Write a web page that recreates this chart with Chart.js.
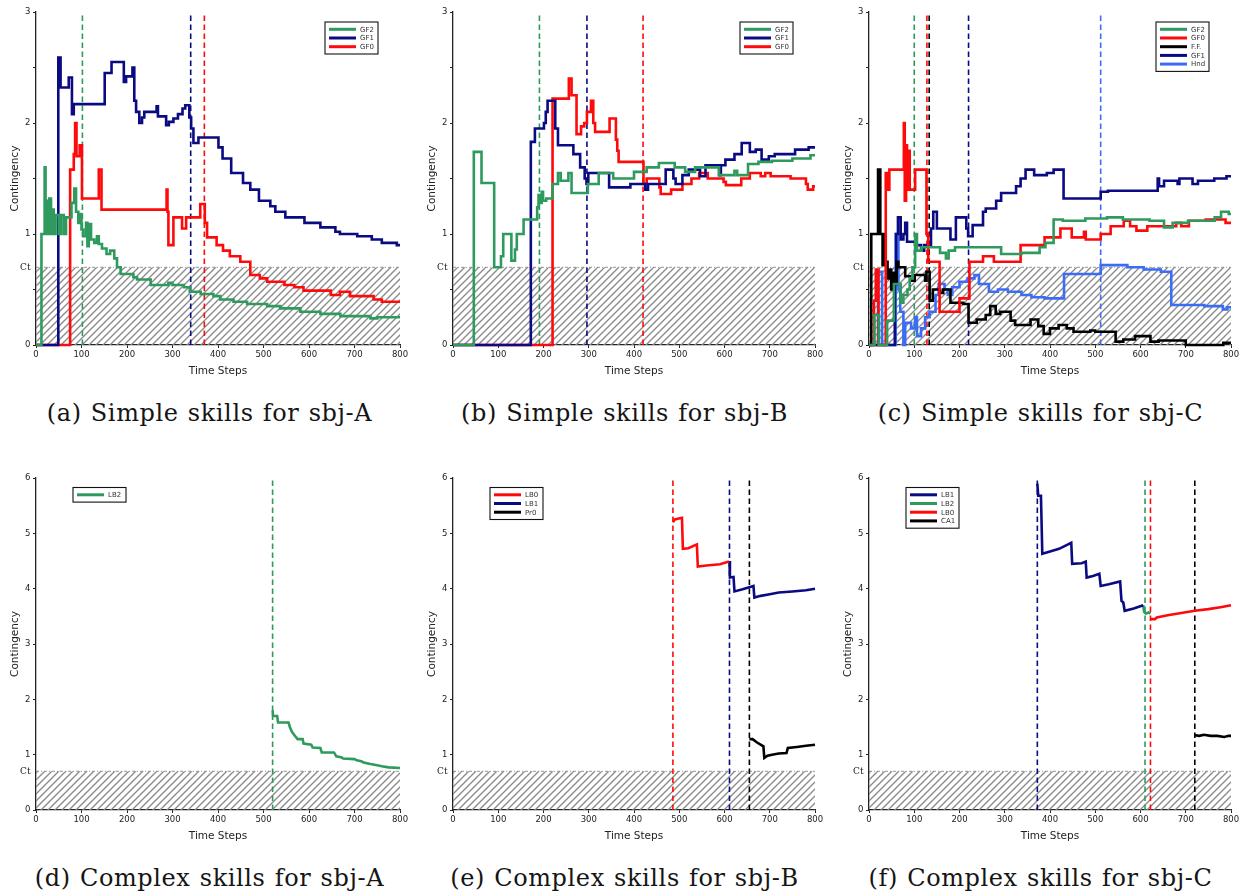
<!DOCTYPE html>
<html>
<head>
<meta charset="utf-8">
<script src="https://cdn.jsdelivr.net/npm/chart.js@4.4.1/dist/chart.umd.min.js"></script>
<style>
html, body { margin: 0; padding: 0; background: #fff; }
body { width: 1246px; height: 896px; position: relative; overflow: hidden; }
canvas { position: absolute; }
.cap {
  position: absolute; width: 415px; text-align: center; white-space: nowrap;
  font-family: 'DejaVu Serif', serif; font-size: 24px; line-height: 30px;
  letter-spacing: 0.6px; word-spacing: 1px; color: #151515;
}
</style>
</head>
<body>
<div class="cap" style="left:2px;top:398px">(a) Simple skills for sbj-A</div>
<div class="cap" style="left:417px;top:398px">(b) Simple skills for sbj-B</div>
<div class="cap" style="left:833px;top:398px">(c) Simple skills for sbj-C</div>
<div class="cap" style="left:2px;top:863px">(d) Complex skills for sbj-A</div>
<div class="cap" style="left:417px;top:863px">(e) Complex skills for sbj-B</div>
<div class="cap" style="left:833px;top:863px">(f) Complex skills for sbj-C</div>
<script>
// --- axis ticks ---
const X_TICKS = [0, 100, 200, 300, 400, 500, 600, 700, 800];
const TOP_Y_TICKS = [0, 0.5, 0.7, 1, 1.5, 2, 2.5, 3];
const BOT_Y_TICKS = [0, 0.7, 1, 2, 3, 4, 5, 6];
const CT = 0.7;

const GREEN = '#2e9a5e', NAVY = '#0a0a82', RED = '#ff0a0a', BLACK = '#000000', LBLUE = '#3b6cf5';

// --- (a) sbj-A simple skills: [time step, contingency], step-wise ---
const A_GF2 = [[0,0],[12,1.0],[19,1.6],[21,1.0],[24,1.3],[26,1.0],[29,1.32],[33,1.0],[36,1.22],[39,1.0],[43,1.17],[50,1.0],[55,1.17],[61,1.0],[66,1.15],[78,1.28],[84,1.41],[88,1.2],[93,1.1],[97,1.18],[100,1.04],[104,0.98],[110,1.1],[113,0.89],[116,1.09],[121,0.95],[128,0.92],[134,0.98],[138,0.91],[145,0.87],[155,0.82],[163,0.85],[172,0.78],[178,0.7],[186,0.64],[214,0.61],[222,0.59],[252,0.54],[291,0.56],[300,0.54],[325,0.52],[338,0.48],[362,0.46],[390,0.44],[405,0.41],[434,0.39],[464,0.37],[508,0.35],[537,0.33],[581,0.3],[625,0.28],[669,0.26],[735,0.24],[750,0.25],[800,0.25]];
const A_GF1 = [[0,0],[49,2.59],[54,2.32],[72,2.41],[79,2.08],[83,2.17],[151,2.45],[166,2.55],[193,2.37],[198,2.42],[212,2.5],[216,2.2],[220,2.1],[227,2.0],[233,2.05],[238,2.1],[265,2.15],[268,2.06],[286,1.98],[292,2.01],[302,2.04],[312,2.08],[322,2.13],[328,2.16],[337,2.05],[341,1.95],[346,1.82],[357,1.87],[401,1.78],[410,1.68],[429,1.55],[455,1.46],[471,1.4],[490,1.3],[515,1.25],[526,1.2],[548,1.15],[590,1.1],[625,1.06],[658,1.02],[668,1.0],[706,0.98],[738,0.95],[760,0.92],[793,0.9],[800,0.9]];
const A_GF0 = [[0,0],[75,1.58],[83,1.72],[86,2.0],[89,1.7],[96,1.8],[101,1.32],[138,1.58],[144,1.22],[287,1.4],[289,1.2],[291,0.9],[302,1.15],[321,1.05],[330,1.15],[361,1.27],[371,1.1],[376,0.97],[397,0.9],[411,0.85],[426,0.8],[449,0.75],[471,0.63],[492,0.6],[508,0.57],[546,0.54],[568,0.52],[588,0.49],[648,0.45],[668,0.48],[690,0.44],[742,0.41],[760,0.39],[800,0.39]];

// --- (b) sbj-B simple skills ---
const B_GF2 = [[0,0],[46,1.74],[63,1.46],[91,0.7],[106,0.8],[111,1.0],[129,0.76],[137,0.86],[141,1.0],[156,1.13],[186,1.24],[189,1.35],[193,1.28],[196,1.38],[199,1.3],[206,1.32],[220,1.45],[232,1.55],[238,1.48],[255,1.55],[262,1.37],[298,1.45],[322,1.55],[354,1.5],[400,1.56],[428,1.6],[455,1.64],[490,1.6],[513,1.56],[535,1.6],[588,1.53],[622,1.57],[628,1.53],[652,1.63],[675,1.65],[705,1.66],[750,1.68],[790,1.71],[800,1.71]];
const B_GF1 = [[0,0],[172,1.83],[181,1.95],[201,2.0],[205,2.1],[209,2.2],[226,1.95],[232,1.8],[266,1.72],[281,1.6],[291,1.5],[295,1.45],[299,1.55],[345,1.42],[392,1.45],[425,1.4],[431,1.45],[470,1.58],[487,1.5],[492,1.45],[507,1.53],[521,1.58],[546,1.52],[558,1.62],[588,1.53],[592,1.62],[602,1.67],[622,1.72],[638,1.82],[656,1.74],[669,1.76],[682,1.67],[698,1.7],[711,1.72],[756,1.76],[786,1.78],[800,1.78]];
const B_GF0 = [[0,0],[220,2.22],[256,2.4],[262,2.25],[273,1.9],[283,1.97],[290,2.0],[296,2.1],[305,2.2],[310,2.0],[314,1.92],[346,2.04],[360,1.85],[363,1.75],[366,1.65],[421,1.45],[428,1.5],[456,1.42],[459,1.36],[482,1.4],[507,1.45],[527,1.5],[544,1.55],[563,1.5],[598,1.47],[603,1.44],[637,1.5],[656,1.55],[680,1.52],[690,1.55],[702,1.52],[746,1.5],[780,1.45],[784,1.4],[796,1.43],[800,1.43]];

// --- (c) sbj-C simple skills ---
const C_GF2 = [[0,0],[12,0.27],[22,0],[40,0.22],[55,0.55],[70,0.38],[76,0.45],[85,0.5],[90,0.6],[96,0.7],[102,1.0],[106,0.85],[116,0.88],[157,0.83],[170,0.78],[176,0.85],[190,0.88],[292,0.82],[337,0.83],[377,0.88],[390,0.92],[408,1.13],[428,1.12],[478,1.14],[526,1.15],[561,1.13],[620,1.12],[652,1.06],[671,1.1],[705,1.12],[764,1.15],[778,1.2],[795,1.18],[800,1.18]];
const C_GF0 = [[0,0],[11,0.4],[15,0.68],[21,0],[37,1.55],[42,1.4],[45,1.58],[77,2.0],[79,1.3],[82,1.8],[84,1.4],[88,1.75],[90,1.4],[102,1.58],[127,1.0],[131,0.75],[156,0.3],[200,0.42],[222,0.75],[252,0.8],[276,0.75],[335,0.9],[388,0.97],[423,1.05],[448,0.97],[475,1.02],[479,0.95],[512,1.0],[534,1.07],[563,1.12],[577,1.07],[591,1.03],[615,1.07],[679,1.1],[690,1.07],[707,1.12],[744,1.13],[788,1.1],[800,1.1]];
const C_FF = [[0,0],[5,1.0],[20,1.58],[25,1.0],[30,0.72],[33,1.0],[37,0.75],[41,0.6],[44,0.68],[49,0.5],[53,0.65],[57,0.55],[61,0.75],[65,0.7],[80,0.62],[91,0.58],[101,0.63],[124,0.58],[127,0.66],[134,0.4],[141,0.5],[157,0.47],[164,0.5],[180,0.38],[208,0.37],[220,0.2],[238,0.23],[258,0.27],[268,0.35],[280,0.28],[290,0.3],[313,0.22],[323,0.18],[357,0.23],[374,0.17],[386,0.1],[400,0.15],[419,0.18],[437,0.15],[452,0.12],[489,0.13],[500,0.12],[545,0.03],[562,0.05],[588,0.08],[622,0.03],[640,0.04],[700,0.0],[783,0.02],[800,0.02]];
const C_GF1 = [[0,0],[57,0.55],[60,1.0],[64,1.15],[70,0.95],[76,1.0],[80,1.1],[84,0.93],[104,0.9],[115,0.85],[122,0.9],[137,1.05],[142,1.2],[150,1.05],[180,0.95],[192,1.15],[215,1.05],[219,0.98],[229,1.08],[252,1.2],[258,1.23],[281,1.3],[292,1.37],[325,1.43],[335,1.5],[346,1.58],[365,1.53],[393,1.55],[408,1.58],[430,1.32],[512,1.38],[528,1.39],[638,1.5],[641,1.43],[652,1.48],[682,1.45],[686,1.5],[715,1.45],[727,1.48],[763,1.5],[790,1.52],[800,1.52]];
const C_HND = [[0,0],[20,0.66],[29,0],[59,1.0],[65,0.5],[69,0.3],[76,0],[80,0.2],[93,0.15],[102,0.25],[106,0.08],[115,0.15],[124,0.25],[134,0.3],[147,0.45],[154,0.55],[167,0.5],[174,0.45],[184,0.52],[200,0.57],[218,0.6],[233,0.63],[243,0.55],[265,0.48],[285,0.5],[307,0.48],[337,0.45],[359,0.43],[388,0.42],[431,0.64],[512,0.72],[571,0.7],[607,0.68],[645,0.66],[668,0.36],[741,0.35],[782,0.32],[792,0.34],[800,0.34]];

// --- (d)-(f) complex skills: plain polylines ---
const D_LB2 = [[520,1.8],[521,1.7],[530,1.7],[532,1.58],[555,1.58],[558,1.5],[562,1.42],[568,1.35],[575,1.28],[586,1.28],[588,1.2],[605,1.18],[608,1.13],[625,1.12],[628,1.04],[655,1.04],[660,0.97],[672,0.95],[675,0.93],[700,0.92],[705,0.9],[715,0.88],[720,0.86],[735,0.83],[750,0.81],[760,0.79],[775,0.77],[800,0.76]];
const E_LB0 = [[486,5.2],[490,5.25],[506,5.28],[508,4.72],[520,4.73],[539,4.8],[541,4.4],[560,4.42],[590,4.44],[610,4.49]];
const E_LB1 = [[611,4.5],[612,4.2],[620,4.21],[622,3.95],[640,3.99],[664,4.05],[666,3.84],[680,3.87],[700,3.9],[720,3.93],[750,3.95],[780,3.97],[800,4.0]];
const E_PR0 = [[655,1.28],[662,1.28],[672,1.22],[686,1.15],[688,0.94],[695,0.98],[705,1.0],[720,1.02],[737,1.03],[740,1.12],[760,1.14],[780,1.16],[800,1.18]];
const F_LB1 = [[372,5.9],[374,5.68],[380,5.68],[383,4.63],[400,4.67],[420,4.72],[447,4.83],[449,4.45],[470,4.46],[479,4.49],[481,4.2],[495,4.23],[509,4.27],[512,4.05],[530,4.08],[555,4.13],[558,3.78],[562,3.75],[565,3.6],[585,3.64],[606,3.7]];
const F_LB2 = [[606,3.7],[608,3.58],[612,3.55],[618,3.57],[622,3.55]];
const F_LB0 = [[622,3.45],[632,3.45],[636,3.48],[660,3.52],[690,3.56],[720,3.6],[750,3.63],[780,3.67],[800,3.7]];
const F_CA1 = [[720,1.35],[730,1.34],[740,1.36],[755,1.34],[770,1.34],[785,1.32],[795,1.34],[800,1.34]];

// --- vertical dashed markers (time step at which each skill was acquired) ---
const A_MARKS = [[102, GREEN], [340, NAVY], [370, RED]];
const B_MARKS = [[191, GREEN], [296, NAVY], [420, RED]];
const C_MARKS = [[100, GREEN], [128, RED], [133, BLACK], [220, NAVY], [512, LBLUE]];
const D_MARKS = [[520, GREEN]];
const E_MARKS = [[486, RED], [611, NAVY], [655, BLACK]];
const F_MARKS = [[372, NAVY], [610, GREEN], [622, RED], [720, BLACK]];

Chart.defaults.font.family = "'DejaVu Sans', sans-serif";

// legend drawn inside the plot, matplotlib style
const boxLegend = {
  id: 'boxLegend',
  afterDatasetsDraw(chart, args, opts) {
    const items = chart.data.datasets.filter(d => d.inLegend);
    if (!items.length) return;
    const ca = chart.chartArea, ctx = chart.ctx;
    const w = 53, rowH = 8.7, h = 14.6 + (items.length - 1) * rowH;
    const x0 = opts.side === 'left' ? ca.left + 37 : ca.right - 75;
    const y0 = ca.top + (opts.side === 'left' ? 9.5 : 10);
    ctx.save();
    ctx.fillStyle = '#fff';
    ctx.fillRect(x0, y0, w, h);
    ctx.strokeStyle = '#111';
    ctx.lineWidth = 1.1;
    ctx.strokeRect(x0, y0, w, h);
    ctx.font = "7px 'DejaVu Sans'";
    ctx.textBaseline = 'middle';
    items.forEach((d, i) => {
      const y = y0 + 7.3 + i * rowH;
      ctx.strokeStyle = d.borderColor;
      ctx.lineWidth = 3;
      ctx.beginPath();
      ctx.moveTo(x0 + 4, y);
      ctx.lineTo(x0 + 31, y);
      ctx.stroke();
      ctx.fillStyle = '#333';
      ctx.fillText(d.label, x0 + 35, y + 0.5);
    });
    ctx.restore();
  }
};

function hatch(ctx) {
  const s = 7;
  const c = document.createElement('canvas');
  c.width = s; c.height = s;
  const g = c.getContext('2d');
  g.strokeStyle = '#8a8a8a';
  g.lineWidth = 1.35;
  g.beginPath();
  g.moveTo(0, s); g.lineTo(s, 0);
  g.moveTo(-1, 1); g.lineTo(1, -1);
  g.moveTo(s - 1, s + 1); g.lineTo(s + 1, s - 1);
  g.stroke();
  return ctx.createPattern(c, 'repeat');
}

const pts = arr => arr.map(p => ({ x: p[0], y: p[1] }));

function panel({ left, top, plotW, plotH, ymax, yticks, series, marks, side, stepped }) {
  const cv = document.createElement('canvas');
  cv.width = plotW + 36 + 14;
  cv.height = 12 + plotH + 40;
  cv.style.left = left + 'px';
  cv.style.top = top + 'px';
  document.body.appendChild(cv);
  const ctx = cv.getContext('2d');

  const datasets = series.map(s => ({
    label: s[0], data: pts(s[1]), borderColor: s[2], backgroundColor: s[2],
    borderWidth: 2.6, stepped: stepped, order: 1, inLegend: true, clip: false
  }));
  marks.forEach(m => datasets.push({
    label: '', data: pts([[m[0], 0], [m[0], ymax]]), borderColor: m[1],
    borderWidth: 1.6, borderDash: [5.5, 3.5], order: 2, clip: false
  }));
  datasets.push({
    label: '', data: pts([[0, CT], [800, CT]]), fill: 'origin',
    backgroundColor: hatch(ctx), borderColor: '#8a8a8a', borderWidth: 0.9,
    borderDash: [3, 2, 1, 2], order: 3
  });

  const tickColor = c => (c.tick && c.tick.value === CT) ? 'rgba(0,0,0,0)' : '#222';

  new Chart(ctx, {
    type: 'line',
    data: { datasets },
    plugins: [boxLegend],
    options: {
      responsive: false, animation: false, devicePixelRatio: 1,
      layout: { padding: { left: 0, top: 12, right: 14, bottom: 0 } },
      elements: { point: { radius: 0 }, line: { tension: 0, borderJoinStyle: 'miter' } },
      plugins: { legend: { display: false }, tooltip: { enabled: false }, boxLegend: { side } },
      scales: {
        x: {
          type: 'linear', min: 0, max: 800,
          afterFit: s => { s.height = 40; },
          afterBuildTicks: s => { s.ticks = X_TICKS.map(v => ({ value: v })); },
          ticks: { color: '#222', font: { size: 8.5 }, padding: 2, maxRotation: 0, autoSkip: false },
          grid: { display: true, drawOnChartArea: false, drawTicks: true, tickLength: 3, color: '#222' },
          border: { display: true, color: '#222', width: 1.3 },
          title: { display: true, text: 'Time Steps', color: '#222', font: { size: 10.5 }, padding: { top: 0, bottom: 7.7 } }
        },
        y: {
          type: 'linear', min: 0, max: ymax,
          afterFit: s => { s.width = 36; },
          afterBuildTicks: s => { s.ticks = yticks.map(v => ({ value: v })); },
          ticks: {
            color: '#222', padding: 2.5, autoSkip: false,
            font: c => (c.tick && c.tick.value === CT) ? { family: "'DejaVu Serif'", size: 9 } : { size: 8.5 },
            callback: v => v === CT ? 'Ct' : (Number.isInteger(v) ? String(v) : '')
          },
          grid: { display: true, drawOnChartArea: false, drawTicks: true, tickLength: 3, color: tickColor },
          border: { display: true, color: '#222', width: 1.3 },
          title: { display: true, text: 'Contingency', color: '#222', font: { size: 10.5 }, padding: { top: 8.7, bottom: 0 } }
        }
      }
    }
  });
}

const topRow = { top: 0, plotH: 333, ymax: 3, yticks: TOP_Y_TICKS, side: 'right', stepped: true };
const botRow = { top: 466, plotH: 332, ymax: 6, yticks: BOT_Y_TICKS, side: 'left', stepped: false };

panel({ ...topRow, left: 0, plotW: 364, marks: A_MARKS,
  series: [['GF2', A_GF2, GREEN], ['GF1', A_GF1, NAVY], ['GF0', A_GF0, RED]] });
panel({ ...topRow, left: 417, plotW: 362, marks: B_MARKS,
  series: [['GF2', B_GF2, GREEN], ['GF1', B_GF1, NAVY], ['GF0', B_GF0, RED]] });
panel({ ...topRow, left: 833, plotW: 362, marks: C_MARKS,
  series: [['GF2', C_GF2, GREEN], ['GF0', C_GF0, RED], ['F.F.', C_FF, BLACK], ['GF1', C_GF1, NAVY], ['Hnd', C_HND, LBLUE]] });
panel({ ...botRow, left: 0, plotW: 364, marks: D_MARKS,
  series: [['LB2', D_LB2, GREEN]] });
panel({ ...botRow, left: 417, plotW: 362, marks: E_MARKS,
  series: [['LB0', E_LB0, RED], ['LB1', E_LB1, NAVY], ['Pr0', E_PR0, BLACK]] });
panel({ ...botRow, left: 833, plotW: 362, marks: F_MARKS,
  series: [['LB1', F_LB1, NAVY], ['LB2', F_LB2, GREEN], ['LB0', F_LB0, RED], ['CA1', F_CA1, BLACK]] });
</script>
</body>
</html>
